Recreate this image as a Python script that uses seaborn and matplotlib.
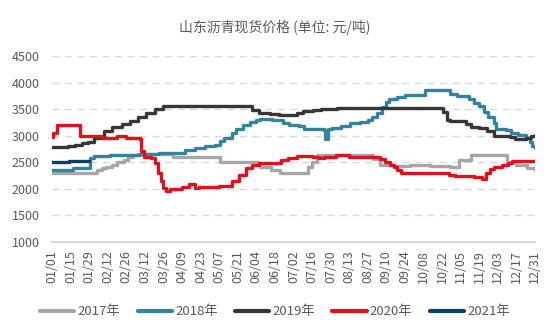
import matplotlib
matplotlib.use("Agg")
import numpy as np
import pandas as pd
import seaborn as sns
import matplotlib.pyplot as plt
from matplotlib.lines import Line2D

title = "山东沥青现货价格 (单位: 元/吨)"
tick_days = list(range(0, 365, 14))
tick_labels = ["01/01", "01/15", "01/29", "02/12", "02/26", "03/12", "03/26", "04/09",
               "04/23", "05/07", "05/21", "06/04", "06/18", "07/02", "07/16", "07/30",
               "08/13", "08/27", "09/10", "09/24", "10/08", "10/22", "11/05", "11/19",
               "12/03", "12/17", "12/31"]
y_ticks = [1000, 1500, 2000, 2500, 3000, 3500, 4000, 4500]

# change points (day of year, price)
d2017 = [0, 34, 38, 41, 45, 49, 54, 57, 61, 65, 91, 127, 155, 157, 165, 172, 193, 196, 200,
         242, 247, 258, 270, 285, 300, 307, 316, 343, 350, 358, 364]
v2017 = [2300, 2350, 2380, 2400, 2440, 2500, 2540, 2590, 2630, 2650, 2600, 2500, 2480, 2400,
         2350, 2300, 2400, 2500, 2630, 2550, 2450, 2420, 2440, 2420, 2400, 2540, 2630, 2500,
         2450, 2380, 2360]

d2018 = [0, 16, 29, 32, 44, 66, 81, 100, 108, 115, 123, 127, 130, 136, 139, 144, 149, 154,
         157, 166, 174, 179, 186, 190, 205, 206, 208, 211, 218, 225, 232, 238, 241, 245, 249,
         252, 254, 260, 266, 281, 300, 305, 314, 318, 322, 326, 329, 333, 335, 342, 346, 351,
         357, 360, 362, 364]
v2018 = [2360, 2380, 2570, 2610, 2630, 2660, 2680, 2730, 2760, 2800, 2830, 2900, 2960, 3040,
         3120, 3200, 3250, 3300, 3320, 3290, 3240, 3200, 3180, 3130, 3110, 2930, 3120, 3150,
         3190, 3230, 3260, 3300, 3350, 3420, 3540, 3630, 3690, 3730, 3760, 3860, 3790, 3740,
         3690, 3620, 3550, 3440, 3350, 3230, 3130, 3100, 3050, 3010, 2950, 2870, 2800, 2770]

d2019 = [0, 12, 17, 23, 27, 32, 39, 45, 53, 59, 65, 71, 78, 84, 151, 156, 164, 171, 185, 189,
         197, 203, 215, 295, 298, 300, 312, 316, 322, 328, 333, 345, 349, 357, 361, 364]
v2019 = [2780, 2800, 2830, 2860, 2880, 2950, 3080, 3160, 3220, 3280, 3350, 3420, 3500, 3550,
         3480, 3430, 3400, 3380, 3420, 3460, 3490, 3510, 3520, 3450, 3300, 3280, 3220, 3170,
         3150, 3080, 3000, 2970, 2940, 2960, 3000, 3020]

d2020 = [0, 1, 4, 21, 38, 49, 56, 66, 67, 69, 75, 78, 80, 82, 84, 86, 89, 98, 103, 108, 111,
         126, 136, 141, 146, 151, 156, 163, 173, 178, 185, 197, 201, 205, 214, 224, 241, 247,
         251, 255, 258, 260, 263, 290, 299, 304, 318, 324, 327, 330, 333, 339, 344, 347, 364]
v2020 = [2980, 3050, 3200, 3000, 2960, 3000, 2950, 2940, 2700, 2600, 2570, 2480, 2300, 2150,
         2010, 1950, 1990, 2030, 2080, 2010, 2030, 2050, 2150, 2250, 2380, 2440, 2480, 2490,
         2540, 2580, 2610, 2600, 2570, 2590, 2630, 2600, 2590, 2560, 2500, 2450, 2400, 2360,
         2290, 2300, 2260, 2240, 2220, 2190, 2300, 2370, 2410, 2440, 2480, 2520, 2520]

d2021 = [0, 10, 13, 28]
v2021 = [2510, 2500, 2520, 2520]

series = ["2017年", "2018年", "2019年", "2020年", "2021年"]
days = [d2017, d2018, d2019, d2020, d2021]
vals = [v2017, v2018, v2019, v2020, v2021]
colors = ["#a6a6a6", "#31849b", "#363636", "#e0101d", "#0d3d6e"]

frames = [pd.DataFrame({"day": d, "price": v, "year": s}) for s, d, v in zip(series, days, vals)]
df = pd.concat(frames, ignore_index=True)

sns.set_style("white")
plt.rcParams["font.family"] = ["Noto Sans CJK SC", "DejaVu Sans"]

fig = plt.figure(figsize=(5.5, 3.3), dpi=100)
ax = fig.add_axes([0.0945, 0.2676, 0.878, 0.5627])

for s, c in zip(series, colors):
    sns.lineplot(data=df[df["year"] == s], x="day", y="price", color=c, lw=2.4,
                 drawstyle="steps-post", ax=ax, legend=False, zorder=3)

ax.set_xlim(0, 364)
ax.set_ylim(1000, 4500)
ax.set_yticks(y_ticks)
ax.set_yticklabels([str(t) for t in y_ticks])
ax.set_xticks(tick_days)
ax.set_xticklabels(tick_labels, rotation=90)
ax.set_xlabel("")
ax.set_ylabel("")

for t in y_ticks[1:]:
    ax.axhline(t, color="#d9d9d9", lw=1.0, ls=(0, (5, 4)), zorder=1)

for sp in ["top", "right", "left"]:
    ax.spines[sp].set_visible(False)
ax.spines["bottom"].set_color("#d9d9d9")
ax.spines["bottom"].set_linewidth(1.5)

ax.tick_params(axis="both", length=0, labelsize=9, labelcolor="#595959")
ax.tick_params(axis="y", pad=9)
ax.tick_params(axis="x", pad=6)

fig.text(0.5, 1 - 27 / 330, title, ha="center", va="center", fontsize=10, color="#595959")

handles = [Line2D([0], [0], color=c, lw=3) for c in colors]
fig.legend(handles, series, loc="center", bbox_to_anchor=(0.5, 1 - 312 / 330), ncol=5,
           frameon=False, fontsize=9.5, handlelength=2.6, handletextpad=0.25,
           columnspacing=1.3, labelcolor="#595959")

fig.savefig("out.png", dpi=100)
